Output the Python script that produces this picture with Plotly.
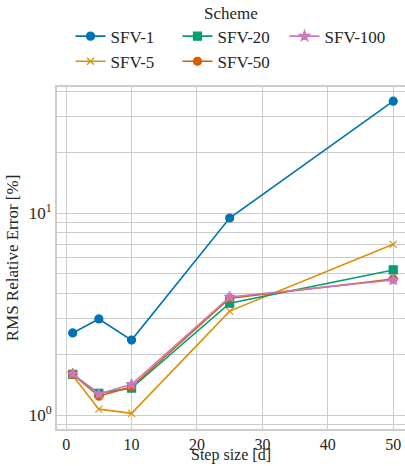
import plotly.graph_objects as go

step = [1, 5, 10, 25, 50]
sfv1 = [2.55, 2.99, 2.35, 9.45, 35.8]
sfv5 = [1.57, 1.07, 1.02, 3.27, 7.0]
sfv20 = [1.59, 1.28, 1.36, 3.58, 5.23]
sfv50 = [1.59, 1.24, 1.38, 3.79, 4.71]
sfv100 = [1.60, 1.27, 1.42, 3.84, 4.66]

series = [
    ("SFV-1", sfv1, "#0173b2", "circle", 8, 1),
    ("SFV-20", sfv20, "#029e73", "square", 8, 2),
    ("SFV-100", sfv100, "#cc78bc", "star", 8, 3),
    ("SFV-5", sfv5, "#de8f05", "x-thin-open", 7, 4),
    ("SFV-50", sfv50, "#d55e00", "circle", 8, 5),
]
draw_order = ["SFV-1", "SFV-5", "SFV-20", "SFV-50", "SFV-100"]

fig = go.Figure()
lookup = {s[0]: s for s in series}
for name in draw_order:
    n, y, c, sym, sz, rank = lookup[name]
    fig.add_trace(go.Scatter(
        x=step, y=y, name=n, mode="lines+markers",
        line=dict(color=c, width=1.6),
        marker=dict(symbol=sym, size=sz, color=c, line=dict(color=c, width=1.2)),
        legendrank=rank,
    ))

font = "Liberation Serif"
grid = "#cccccc"
minor_vals = [0.9] + [v for v in range(2, 10)] + [20, 30, 40]

fig.update_layout(
    width=405, height=466,
    margin=dict(l=57, r=0, t=87, b=37, autoexpand=False),
    paper_bgcolor="white", plot_bgcolor="white",
    font=dict(family=font, size=16, color="#262626"),
    legend=dict(
        orientation="h", x=0.5, xanchor="center", y=1.022, yanchor="bottom",
        entrywidth=62, entrywidthmode="pixels",
        title=dict(text="Scheme", side="top center", font=dict(size=17)),
        font=dict(size=17), traceorder="normal",
        itemwidth=30, tracegroupgap=0,
    ),
    showlegend=True,
)
fig.add_annotation(
    text="Step size [d]", xref="paper", yref="paper", x=0.5, y=-37 / 342,
    xanchor="center", yanchor="bottom", showarrow=False,
    font=dict(size=16, family=font, color="#262626"),
)
fig.update_xaxes(
    range=[-1.4, 51.8], tickvals=[0, 10, 20, 30, 40, 50],
    showgrid=True, gridcolor=grid, gridwidth=1.1,
    showline=True, linecolor=grid, linewidth=1.6, mirror=True,
    zeroline=False, ticks="", tickfont=dict(size=16), automargin=False,
)
fig.update_yaxes(
    type="log", range=[-0.069, 1.624],
    tickvals=[1, 10], ticktext=["10<sup>0</sup>", "10<sup>1</sup>"],
    showgrid=True, gridcolor=grid, gridwidth=1.1,
    minor=dict(tickvals=minor_vals, showgrid=True, gridcolor=grid, gridwidth=1.0, ticks=""),
    showline=True, linecolor=grid, linewidth=1.6, mirror=True,
    zeroline=False, ticks="", tickfont=dict(size=17), automargin=False,
    title=dict(text="RMS Relative Error [%]", font=dict(size=17), standoff=6),
)

fig.write_html("out.html")
